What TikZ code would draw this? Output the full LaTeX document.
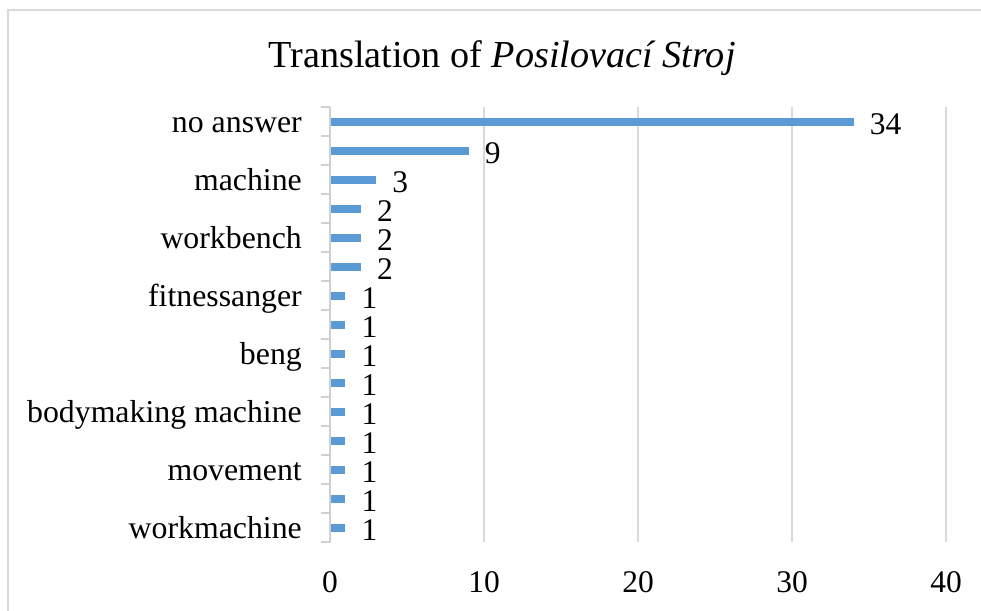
\documentclass[tikz,border=0pt]{standalone}
\usepackage{fontspec}
\setmainfont{Liberation Serif}
\definecolor{barblue}{HTML}{5B9BD5}
\definecolor{gridgray}{HTML}{D9D9D9}
\definecolor{axisgray}{HTML}{D0D0D0}
\begin{document}
\begin{tikzpicture}[x=1pt,y=-1pt,
  bar/.style={fill=barblue,draw=none},
  gridline/.style={draw=gridgray,line width=1.5pt},
  axisline/.style={draw=axisgray,line width=2pt},
  catlabel/.style={anchor=base east,inner sep=0pt,font=\fontsize{31.8}{36}\selectfont},
  vallabel/.style={anchor=base west,inner sep=0pt,font=\fontsize{31.5}{36}\selectfont},
  ticklabel/.style={anchor=base,inner sep=0pt,font=\fontsize{31.5}{36}\selectfont},
  titletext/.style={anchor=base,inner sep=0pt,font=\fontsize{38.2}{43}\selectfont}]
\useasboundingbox (0,0) rectangle (981,610);
\clip (0,0) rectangle (981,610);
% chart frame (runs past the right and bottom edges)
\draw[draw=gridgray,line width=1.5pt] (8,10) rectangle (1000,640);
% title
\node[titletext] (title) at (502,67) {Translation of \textit{Posilovací Stroj}};
% geometry: value 0 at x=330, 15.4 per unit; 15 rows of 29 from y=107
\def\xz{330}\def\xu{15.4}\def\ytop{107}\def\rowh{29}
% vertical gridlines
\foreach \v in {10,20,30,40}{
  \draw[gridline] (\xz+\v*\xu,\ytop) -- (\xz+\v*\xu,\ytop+15*\rowh);
  \node[ticklabel] (t\v) at (\xz+\v*\xu,592) {\v};
}
\node[ticklabel] (t0) at (\xz,592) {0};
% bars and value labels
\foreach \val [count=\i from 0] in {34,9,3,2,2,2,1,1,1,1,1,1,1,1,1}{
  \pgfmathsetmacro{\yc}{\ytop+(\i+0.5)*\rowh}
  \fill[bar] (\xz,\yc-4) rectangle (\xz+\val*\xu,\yc+4);
  \node[vallabel] (v\i) at (\xz+\val*\xu+16,\yc+12.5) {\val};
}
% category axis with tick marks
\draw[axisline] (\xz,\ytop) -- (\xz,\ytop+15*\rowh+1);
\foreach \k in {0,...,15}{
  \draw[axisline] (\xz-9,\ytop+\k*\rowh) -- (\xz,\ytop+\k*\rowh);
}
% category labels (every second row)
\foreach \name [count=\j from 0] in {no answer,machine,workbench,fitnessanger,beng,bodymaking machine,movement,workmachine}{
  \pgfmathsetmacro{\yl}{\ytop+(2*\j+0.5)*\rowh+11}
  \node[catlabel] (c\j) at (302,\yl) {\name};
}
\end{tikzpicture}
\end{document}
